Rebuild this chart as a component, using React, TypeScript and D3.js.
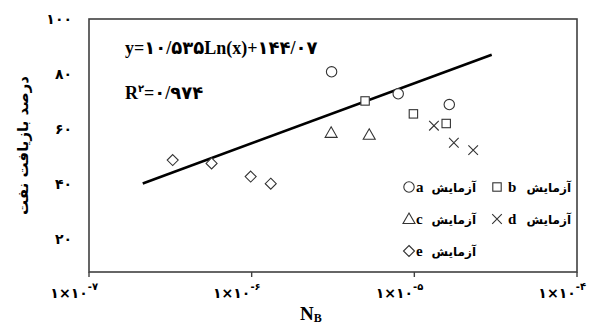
import React from 'react';
import * as d3 from 'd3';

// data
const seriesA_x = [3.1e-6, 7.96e-6, 1.64e-5];
const seriesA_y = [80.8, 72.8, 68.9];
const seriesB_x = [4.98e-6, 9.87e-6, 1.57e-5];
const seriesB_y = [70.2, 65.5, 62.0];
const seriesC_x = [3.08e-6, 5.28e-6];
const seriesC_y = [58.6, 57.9];
const seriesD_x = [1.32e-5, 1.75e-5, 2.3e-5];
const seriesD_y = [61.2, 55.0, 52.3];
const seriesE_x = [3.27e-7, 5.67e-7, 9.86e-7, 1.31e-6];
const seriesE_y = [48.7, 47.5, 42.7, 40.1];

const trendX = [2.14e-7, 2.99e-5];
const trendY = [40.2, 87.0];

const yTicks = [20, 40, 60, 80, 100];
const yTickLabels = ['۲۰', '۴۰', '۶۰', '۸۰', '۱۰۰'];
const xTicks = [1e-7, 1e-6, 1e-5, 1e-4];
const xTickExp = ['-۷', '-۶', '-۵', '-۴'];

const equation = 'y=۱۰/۵۳۵Ln(x)+۱۴۴/۰۷';
const rSquared = '=۰/۹۷۴';
const yTitle = 'درصد بازیافت نفت';
const legendWord = 'آزمایش';

const W = 590;
const H = 331;
const margin = { top: 19, right: 13, bottom: 59, left: 89 };

const latin = '"Liberation Serif", "DejaVu Serif", serif';
const persian = '"DejaVu Sans", "Liberation Serif", sans-serif';
const mixed = '"Liberation Serif", "DejaVu Sans"';
const ink = '#333';

type Shape = 'circle' | 'square' | 'triangle' | 'cross' | 'diamond';

function Marker({ shape, x, y }: { shape: Shape; x: number; y: number }) {
  const common = { fill: '#fff', stroke: ink, strokeWidth: 1.1 };
  if (shape === 'circle') return <circle cx={x} cy={y} r={5.2} {...common} />;
  if (shape === 'square') return <rect x={x - 4.2} y={y - 4.2} width={8.4} height={8.4} {...common} />;
  if (shape === 'triangle') {
    const s = 6;
    return <path d={`M${x},${y - s}L${x + s},${y + s * 0.75}L${x - s},${y + s * 0.75}Z`} {...common} />;
  }
  if (shape === 'diamond') {
    const s = 5.5;
    return <path d={`M${x},${y - s}L${x + s},${y}L${x},${y + s}L${x - s},${y}Z`} {...common} />;
  }
  const s = 4.8;
  return <path d={`M${x - s},${y - s}L${x + s},${y + s}M${x + s},${y - s}L${x - s},${y + s}`} fill="none" stroke={ink} strokeWidth={1.1} />;
}

const series: { shape: Shape; xs: number[]; ys: number[] }[] = [
  { shape: 'circle', xs: seriesA_x, ys: seriesA_y },
  { shape: 'square', xs: seriesB_x, ys: seriesB_y },
  { shape: 'triangle', xs: seriesC_x, ys: seriesC_y },
  { shape: 'cross', xs: seriesD_x, ys: seriesD_y },
  { shape: 'diamond', xs: seriesE_x, ys: seriesE_y },
];

const legendItems: { shape: Shape; letter: string }[] = [
  { shape: 'circle', letter: 'a' },
  { shape: 'square', letter: 'b' },
  { shape: 'triangle', letter: 'c' },
  { shape: 'cross', letter: 'd' },
  { shape: 'diamond', letter: 'e' },
];

export default function App() {
  const x = d3.scaleLog().domain([1e-7, 1e-4]).range([margin.left, W - margin.right]);
  const y = d3.scaleLinear().domain([8, 100]).range([H - margin.bottom, margin.top]);

  const line = d3.line<number>()
    .x((_, i) => x(trendX[i]))
    .y(d => y(d));

  const x0 = margin.left;
  const x1 = W - margin.right;
  const y0 = H - margin.bottom;
  const y1 = margin.top;

  // legend columns: marker, letter, word end
  const legendCols = [
    { marker: 409, letter: 416, wordEnd: 476 },
    { marker: 497, letter: 508, wordEnd: 571 },
  ];

  return (
    <svg width={W} height={H} style={{ position: 'absolute', left: 0, top: 0, background: '#fff' }}>
      <rect x={0} y={0} width={W} height={H} fill="#fff" />

      {/* trend line */}
      <path d={line(trendY) || ''} fill="none" stroke="#000" strokeWidth={2.6} />

      {/* points */}
      {series.map((s, si) =>
        s.xs.map((v, i) => <Marker key={`${si}-${i}`} shape={s.shape} x={x(v)} y={y(s.ys[i])} />)
      )}

      {/* frame */}
      <rect x={x0} y={y1} width={x1 - x0} height={y0 - y1} fill="none" stroke="#404040" strokeWidth={1.6} />

      {/* x ticks */}
      {xTicks.map((t, i) => (
        <g key={t}>
          <line x1={x(t)} x2={x(t)} y1={y0} y2={y0 + 5} stroke="#404040" strokeWidth={1.4} />
          <text x={x(t) + 9} y={y0 + 26} textAnchor="end" fontFamily={persian} fontWeight="bold" fontSize={14} fill="#000">
            ۱×۱۰
            <tspan dy={-8} fontSize={10}>{xTickExp[i]}</tspan>
          </text>
        </g>
      ))}

      {/* y ticks */}
      {yTicks.map((t, i) => (
        <text key={t} x={x0 - 17} y={y(t) + 5} textAnchor="end" fontFamily={persian} fontWeight="bold" fontSize={14} fill="#000">
          {yTickLabels[i]}
        </text>
      ))}

      {/* axis titles */}
      <text transform={`translate(28,${(y0 + y1) / 2}) rotate(-90)`} textAnchor="middle" fontFamily={persian} fontWeight="bold" fontSize={15} fill="#000" direction="rtl">
        {yTitle}
      </text>
      <text x={300} y={320} fontFamily={latin} fontWeight="bold" fontSize={19} fill="#000">
        N<tspan fontSize={12} dy={2}>B</tspan>
      </text>

      {/* equation */}
      <text x={125} y={54} fontFamily={mixed} fontWeight="bold" fontSize={18} fill="#000">
        {equation}
      </text>
      <text x={125} y={99} fontFamily={mixed} fontWeight="bold" fontSize={18} fill="#000">
        R<tspan dy={-7} fontSize={10}>۲</tspan><tspan dy={7}>{rSquared}</tspan>
      </text>

      {/* legend */}
      {legendItems.map((it, i) => {
        const col = legendCols[i % 2];
        const my = 187 + Math.floor(i / 2) * 32;
        return (
          <g key={it.letter}>
            <Marker shape={it.shape} x={col.marker} y={my} />
            <text x={col.letter} y={my + 5} fontFamily={latin} fontWeight="bold" fontSize={15} fill="#000">{it.letter}</text>
            <text x={col.wordEnd} y={my + 5} textAnchor="end" fontFamily={persian} fontWeight="bold" fontSize={12} fill="#000">{legendWord}</text>
          </g>
        );
      })}
    </svg>
  );
}
